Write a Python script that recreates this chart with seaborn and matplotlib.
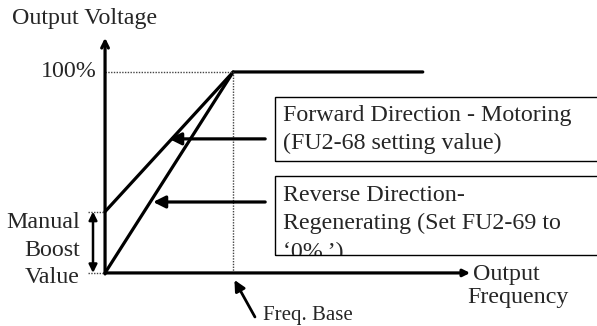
import matplotlib
matplotlib.use("Agg")
import matplotlib.pyplot as plt
import seaborn as sns
import pandas as pd
from matplotlib.patches import Rectangle
from matplotlib.transforms import Bbox, TransformedBbox

sns.set_theme(style="white")
plt.rcParams['font.family'] = ['Liberation Serif', 'DejaVu Serif']

# ---- data (frequency in units of base frequency, voltage in %) ----
freq_base = 1.0
freq_end = 2.48
boost = 30.5
v_max = 100
motoring_f = [0, freq_base, freq_end]
motoring_v = [boost, v_max, v_max]
regen_f = [0, freq_base]
regen_v = [0, v_max]
x_axis_end = 2.85
y_axis_end = 117
fwd_arrow = (1.25, 0.50, 66.7)   # from x, to x, at voltage
rev_arrow = (1.25, 0.375, 35.3)
fwd_label = "Forward Direction - Motoring\n(FU2-68 setting value)"
rev_label = "Reverse Direction-\nRegenerating (Set FU2-69 to\n\u20180%\u2009\u2019)"

fig = plt.figure(figsize=(5.97, 3.26), dpi=100)
ax = fig.add_axes([0, 0, 1, 1])
ax.set_xlim(-0.82, 3.84)
ax.set_ylim(-26.4, 135.8)
ax.axis('off')

df_m = pd.DataFrame({"f": motoring_f, "v": motoring_v})
df_r = pd.DataFrame({"f": regen_f, "v": regen_v})
sns.lineplot(data=df_m, x="f", y="v", sort=False, estimator=None, color="black", lw=2.3, ax=ax)
sns.lineplot(data=df_r, x="f", y="v", sort=False, estimator=None, color="black", lw=2.3, ax=ax)

# axes arrows
ax.annotate('', xy=(x_axis_end, 0), xytext=(0, 0),
            arrowprops=dict(arrowstyle='-|>', lw=2.3, color='black', shrinkA=0, shrinkB=0,
                            mutation_scale=10))
ax.annotate('', xy=(0, y_axis_end), xytext=(0, -0.5),
            arrowprops=dict(arrowstyle='->', lw=2.3, color='black', shrinkA=0, shrinkB=0,
                            mutation_scale=12))

# dotted guide lines
dot = dict(color='#444444', lw=1.0, linestyle=(0, (1, 1)))
ax.plot([0, freq_base], [v_max, v_max], **dot)
ax.plot([freq_base, freq_base], [0, v_max], **dot)
ax.plot([-0.133, 0], [boost, boost], **dot)
ax.plot([-0.133, 0], [0, 0], **dot)

# manual boost double arrow
ax.annotate('', xy=(-0.094, boost), xytext=(-0.094, 0),
            arrowprops=dict(arrowstyle='<|-|>', lw=1.8, color='black', shrinkA=0, shrinkB=0,
                            mutation_scale=12))

# pointer arrows
for (x0, x1, yv) in (fwd_arrow, rev_arrow):
    ax.annotate('', xy=(x1, yv), xytext=(x0, yv),
                arrowprops=dict(arrowstyle='-|>', lw=2.3, color='black', shrinkA=0, shrinkB=0,
                                mutation_scale=18))

# freq base arrow
ax.annotate('', xy=(1.01, -3.5), xytext=(1.17, -21.9),
            arrowprops=dict(arrowstyle='-|>', lw=2.0, color='black', shrinkA=0, shrinkB=0,
                            mutation_scale=16))

# boxes
box_f = Rectangle((1.33, 55.7), 3.0, 31.9, fill=False, lw=1.0, ec='black')
box_r = Rectangle((1.33, 9.0), 3.0, 39.3, fill=False, lw=1.0, ec='black')
ax.add_patch(box_f)
ax.add_patch(box_r)

fs = 17.3
ls = 1.45
ax.text(1.39, 71.4, fwd_label, fontsize=fs, ha='left', va='center', linespacing=ls)
t = ax.text(1.39, 24.4, rev_label, fontsize=fs, ha='left', va='center', linespacing=ls,
            family=['Liberation Serif', 'DejaVu Serif'])
t.set_clip_on(True)
t.set_clip_path(None)
t.set_clip_box(TransformedBbox(Bbox([[1.33, 9.0], [4.33, 48.3]]), ax.transData))

ax.text(-0.727, 126.4, "Output Voltage", fontsize=fs, ha='left', va='center')
ax.text(-0.0625, v_max, "100%", fontsize=fs, ha='right', va='center')
ax.text(-0.195, 11.4, "Manual\nBoost\nValue", fontsize=fs, ha='right', va='center',
        multialignment='right', linespacing=1.38)
ax.text(2.875, -1.0, "Output", fontsize=fs, ha='left', va='center')
ax.text(2.83, -12.4, "Frequency", fontsize=fs, ha='left', va='center')
ax.text(1.234, -21.4, "Freq. Base", fontsize=15, ha='left', va='center')

fig.savefig("out.png", dpi=100)
